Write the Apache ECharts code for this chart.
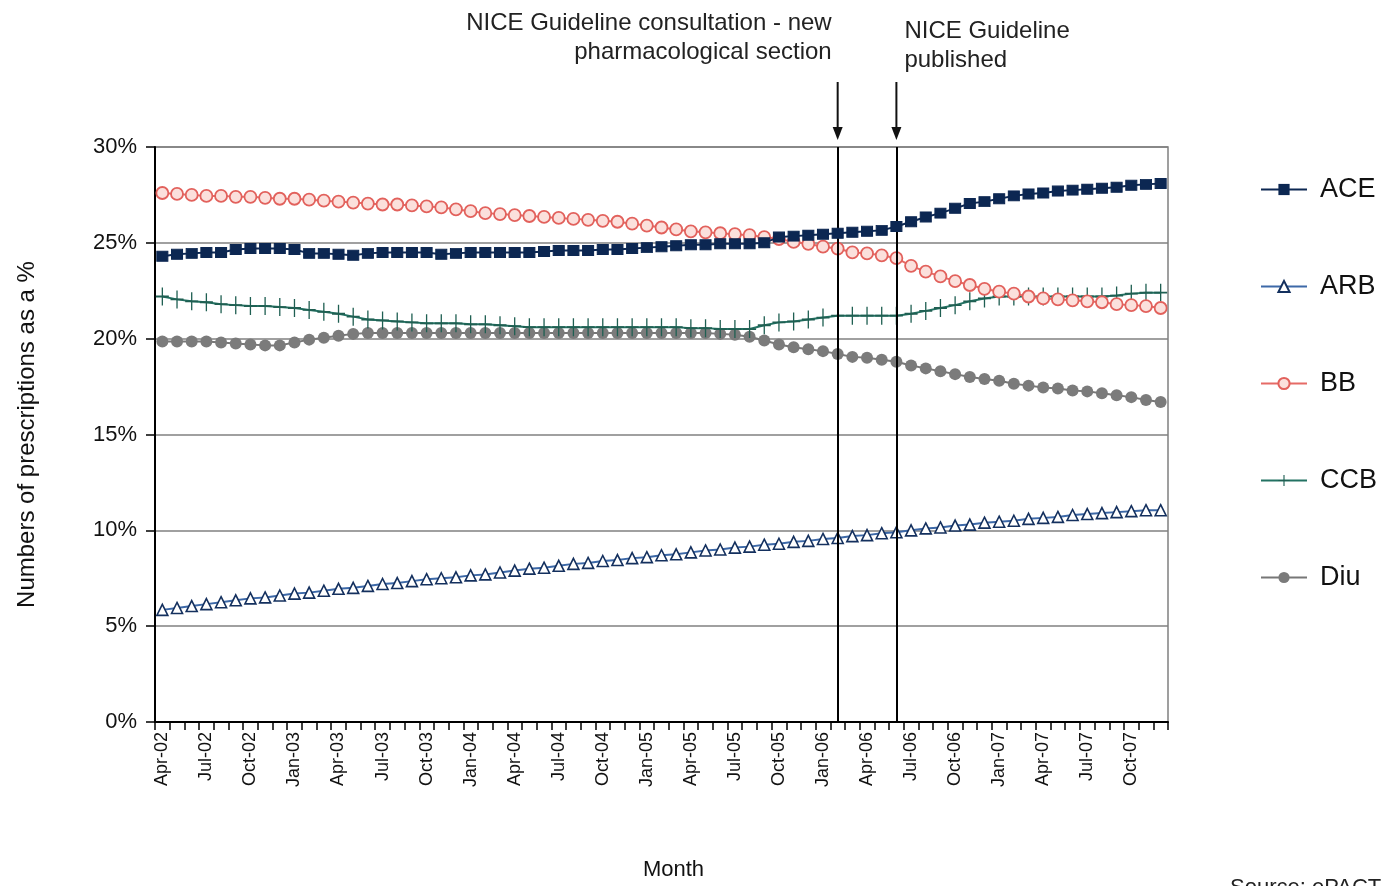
<!DOCTYPE html>
<html>
<head>
<meta charset="utf-8">
<script src="https://cdn.jsdelivr.net/npm/echarts@6/dist/echarts.min.js"></script>
<style>
html,body{margin:0;padding:0;background:#fff;}
#c{width:1381px;height:886px;}
</style>
</head>
<body>
<div id="c"></div>
<script>
var categories = [
 'Apr-02','May-02','Jun-02','Jul-02','Aug-02','Sep-02','Oct-02','Nov-02','Dec-02',
 'Jan-03','Feb-03','Mar-03','Apr-03','May-03','Jun-03','Jul-03','Aug-03','Sep-03','Oct-03','Nov-03','Dec-03',
 'Jan-04','Feb-04','Mar-04','Apr-04','May-04','Jun-04','Jul-04','Aug-04','Sep-04','Oct-04','Nov-04','Dec-04',
 'Jan-05','Feb-05','Mar-05','Apr-05','May-05','Jun-05','Jul-05','Aug-05','Sep-05','Oct-05','Nov-05','Dec-05',
 'Jan-06','Feb-06','Mar-06','Apr-06','May-06','Jun-06','Jul-06','Aug-06','Sep-06','Oct-06','Nov-06','Dec-06',
 'Jan-07','Feb-07','Mar-07','Apr-07','May-07','Jun-07','Jul-07','Aug-07','Sep-07','Oct-07','Nov-07','Dec-07'
];
var ACE = [24.3,24.4,24.45,24.5,24.5,24.65,24.7,24.7,24.7,24.65,
 24.45,24.45,24.4,24.35,24.45,24.5,24.5,24.5,24.5,24.4,
 24.45,24.5,24.5,24.5,24.5,24.5,24.55,24.6,24.6,24.6,
 24.65,24.65,24.7,24.75,24.8,24.85,24.9,24.9,24.95,24.95,
 24.95,25.0,25.3,25.35,25.4,25.45,25.5,25.55,25.6,25.65,
 25.85,26.1,26.35,26.55,26.8,27.05,27.15,27.3,27.45,27.55,
 27.6,27.7,27.75,27.8,27.85,27.9,28.0,28.05,28.1];
var ARB = [5.85,5.95,6.05,6.15,6.25,6.35,6.45,6.5,6.6,6.7,
 6.75,6.85,6.95,7.0,7.1,7.2,7.25,7.35,7.45,7.5,
 7.55,7.65,7.7,7.8,7.9,8.0,8.05,8.15,8.25,8.3,
 8.4,8.45,8.55,8.6,8.7,8.75,8.85,8.95,9.0,9.1,
 9.15,9.25,9.3,9.4,9.45,9.55,9.6,9.7,9.75,9.85,
 9.9,10.0,10.1,10.15,10.25,10.3,10.4,10.45,10.5,10.6,
 10.65,10.7,10.8,10.85,10.9,10.95,11.0,11.05,11.05];
var BB = [27.6,27.55,27.5,27.45,27.45,27.4,27.4,27.35,27.3,27.3,
 27.25,27.2,27.15,27.1,27.05,27.0,27.0,26.95,26.9,26.85,
 26.75,26.65,26.55,26.5,26.45,26.4,26.35,26.3,26.25,26.2,
 26.15,26.1,26.0,25.9,25.8,25.7,25.6,25.55,25.5,25.45,
 25.4,25.3,25.2,25.05,24.95,24.8,24.7,24.5,24.45,24.35,
 24.2,23.8,23.5,23.25,23.0,22.8,22.6,22.45,22.35,22.2,
 22.1,22.05,22.0,21.95,21.9,21.8,21.75,21.7,21.6];
var CCB = [22.2,22.05,21.95,21.9,21.8,21.75,21.7,21.7,21.65,21.6,
 21.5,21.4,21.3,21.15,21.0,20.95,20.9,20.85,20.8,20.8,
 20.8,20.75,20.75,20.7,20.65,20.6,20.6,20.6,20.6,20.6,
 20.6,20.6,20.6,20.6,20.6,20.6,20.55,20.55,20.5,20.5,
 20.5,20.7,20.85,20.9,21.0,21.1,21.2,21.2,21.2,21.2,
 21.2,21.3,21.45,21.6,21.75,21.95,22.1,22.2,22.2,22.2,
 22.2,22.2,22.2,22.2,22.2,22.25,22.35,22.4,22.4];
var Diu = [19.85,19.85,19.85,19.85,19.8,19.75,19.7,19.65,19.65,19.8,
 19.95,20.05,20.15,20.25,20.3,20.3,20.3,20.3,20.3,20.3,
 20.3,20.3,20.3,20.3,20.3,20.3,20.3,20.3,20.3,20.3,
 20.3,20.3,20.3,20.3,20.3,20.3,20.3,20.3,20.25,20.2,
 20.1,19.9,19.7,19.55,19.45,19.35,19.2,19.05,19.0,18.9,
 18.8,18.6,18.45,18.3,18.15,18.0,17.9,17.8,17.65,17.55,
 17.45,17.4,17.3,17.25,17.15,17.05,16.95,16.8,16.7];
var yTicks = [0,5,10,15,20,25,30];
var events = ['Feb-06','Jun-06'];

var FONT = 'Liberation Sans, Arial, sans-serif';
var plusPath = 'path://M9,0h2v9h9v2h-9v9h-2v-9h-9v-2h9z';

var chart = echarts.init(document.getElementById('c'), null, {renderer:'canvas'});
var option = {
  backgroundColor:'#fff',
  animation:false,
  grid:{left:155, top:147, width:1013, height:582, show:true, borderColor:'#808080', borderWidth:1.5, backgroundColor:'transparent'},
  legend:{
    orient:'vertical', left:1255, top:171, itemWidth:46, itemHeight:14, itemGap:70,
    textStyle:{fontFamily:FONT, fontSize:27, color:'#111', padding:[0,0,0,8]},
    data:['ACE','ARB','BB','CCB','Diu']
  },
  xAxis:{
    type:'category', data:categories, boundaryGap:true,
    name:'Month', nameLocation:'middle', nameGap:137,
    nameTextStyle:{fontFamily:FONT, fontSize:22, color:'#111', padding:[0,0,0,24]},
    axisLine:{lineStyle:{color:'#000', width:2}},
    axisTick:{show:true, interval:0, length:8, lineStyle:{color:'#000', width:1.5}},
    axisLabel:{interval:2, rotate:90, margin:10, fontFamily:FONT, fontSize:18, color:'#111'},
    splitLine:{show:false}
  },
  yAxis:{
    type:'value', min:0, max:30, interval:5,
    name:'Numbers of prescriptions as a %', nameLocation:'middle', nameGap:116,
    nameTextStyle:{fontFamily:FONT, fontSize:24, color:'#111'},
    axisLine:{show:true, lineStyle:{color:'#000', width:2}},
    axisTick:{show:true, length:9, lineStyle:{color:'#000', width:1.5}},
    axisLabel:{fontFamily:FONT, fontSize:22, color:'#111', margin:18, formatter:function(v){return v+'%';}},
    splitLine:{show:true, lineStyle:{color:'#808080', width:1.5}}
  },
  series:[
    {name:'ACE', type:'line', data:ACE, symbol:'rect', symbolSize:[11,10], showAllSymbol:true,
     lineStyle:{color:'#0c2752', width:2}, itemStyle:{color:'#0c2752', borderColor:'#0c2752'}, z:5,
     markLine:{silent:true, symbol:['none','none'], label:{show:false},
       lineStyle:{color:'#000', width:2, type:'solid'},
       data:events.map(function(e){return {xAxis:e};})}},
    {name:'ARB', type:'line', data:ARB, symbol:'triangle', symbolSize:11, showAllSymbol:true,
     lineStyle:{color:'#3d69a8', width:2}, itemStyle:{color:'#ffffff', borderColor:'#14305e', borderWidth:1.6}, z:4},
    {name:'BB', type:'line', data:BB, symbol:'circle', symbolSize:12, showAllSymbol:true,
     lineStyle:{color:'#e66b66', width:2}, itemStyle:{color:'#fbe0dc', borderColor:'#e2615c', borderWidth:1.8}, z:3},
    {name:'CCB', type:'line', data:CCB, symbol:plusPath, symbolSize:[13,18], showAllSymbol:true,
     lineStyle:{color:'#237263', width:2}, itemStyle:{color:'#1f5f52'}, z:2},
    {name:'Diu', type:'line', data:Diu, symbol:'circle', symbolSize:12, showAllSymbol:true,
     lineStyle:{color:'#777', width:2}, itemStyle:{color:'#7b7b7b'}, z:1}
  ]
};
chart.setOption(option);

var yTop = chart.convertToPixel({yAxisIndex:0}, 30);
var x1 = chart.convertToPixel({xAxisIndex:0}, events[0]);
var x2 = chart.convertToPixel({xAxisIndex:0}, events[1]);
function arrow(x){
  return [
    {type:'line', shape:{x1:x, y1:82, x2:x, y2:yTop-16}, style:{stroke:'#111', lineWidth:2}},
    {type:'polygon', shape:{points:[[x-5,yTop-20],[x+5,yTop-20],[x,yTop-7]]}, style:{fill:'#111'}}
  ];
}
chart.setOption({graphic:[].concat(arrow(x1), arrow(x2)).concat([
  {type:'text', x:x1-6, y:9, style:{text:'NICE Guideline consultation - new\npharmacological section', align:'right', fontFamily:FONT, fontSize:24, lineHeight:29, fill:'#222'}},
  {type:'text', x:x2+8, y:17, style:{text:'NICE Guideline\npublished', align:'left', fontFamily:FONT, fontSize:24, lineHeight:29, fill:'#222'}},
  {type:'text', x:1230, y:877, style:{text:'Source: ePACT', fontFamily:FONT, fontSize:22, fill:'#222'}}
])});
</script>
</body>
</html>
